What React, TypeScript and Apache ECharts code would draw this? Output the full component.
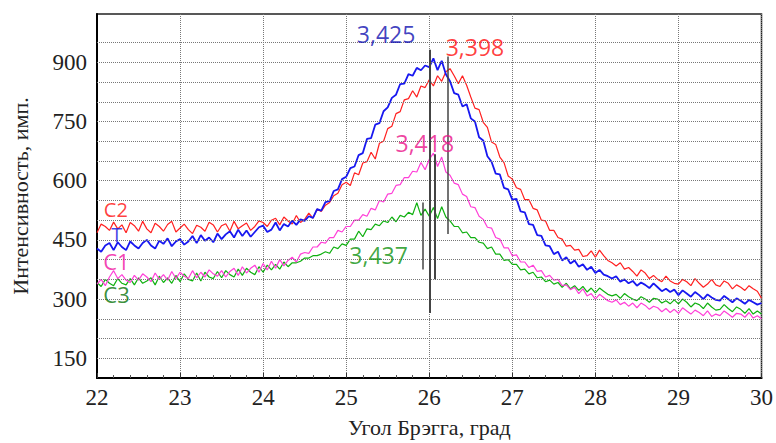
import React, { useEffect, useRef } from "react";
import * as echarts from "echarts";

// Bragg angle grid (deg), 22.00 .. 30.00 step 0.05
const xStart = 22;
const xStep = 0.05;

// C2 (red)
const c2 = [
  468, 490, 484, 474, 495, 478, 488, 468, 494, 486, 472, 497, 478, 468, 492, 484, 472, 489, 497, 470,
  480, 490, 476, 466, 487, 482, 472, 495, 488, 470, 486, 491, 472, 497, 478, 486, 493, 474, 484, 498,
  494, 484, 500, 505, 488, 508, 498, 490, 512, 494, 502, 518, 505, 528, 522, 538, 545, 562, 568, 590,
  596, 588, 620, 615, 645, 648, 672, 655, 695, 700, 732, 738, 770, 775, 805, 808, 828, 812, 840, 836,
  856, 840, 866, 852, 876, 884, 866, 846, 866, 842, 812, 784, 780, 748, 735, 698, 692, 660, 646, 612,
  604, 582, 578, 552, 552, 530, 526, 500, 498, 474, 474, 456, 452, 434, 436, 424, 426, 408, 410, 422,
  406, 424, 410, 398, 392, 384, 392, 376, 380, 370, 358, 374, 366, 352, 360, 350, 344, 358, 346, 340,
  338, 350, 344, 334, 352, 340, 330, 338, 350, 336, 332, 346, 340, 326, 336, 330, 322, 334, 326, 320,
  302,
];

// T (blue)
const tSeries = [
  428, 420, 436, 442, 424, 444, 432, 424, 446, 436, 428, 442, 450, 436, 428, 448, 440, 454, 434, 446,
  452, 438, 446, 460, 442, 462, 448, 456, 444, 466, 452, 464, 472, 456, 476, 460, 474, 458, 470, 482,
  486, 470, 476, 494, 474, 490, 484, 499, 488, 502, 498, 510, 506, 528, 524, 546, 548, 574, 578, 604,
  610, 632, 636, 665, 670, 706, 708, 742, 746, 776, 786, 810, 818, 845, 846, 870, 866, 886, 880, 892,
  888, 910, 880, 904, 870, 852, 822, 818, 788, 794, 758, 750, 710, 702, 662, 648, 618, 616, 582, 578,
  552, 554, 522, 520, 490, 488, 462, 460, 436, 434, 414, 420, 398, 406, 390, 398, 382, 388, 374, 382,
  366, 374, 362, 358, 352, 358, 344, 350, 340, 346, 334, 342, 336, 328, 340, 330, 320, 326, 318, 324,
  310, 322, 314, 306, 318, 310, 300, 312, 304, 298, 296, 308, 300, 292, 302, 296, 288, 298, 292, 286,
  290,
];

// C1 (magenta)
const c1 = [
  338, 350, 334, 356, 372, 352, 362, 348, 342, 360, 348, 364, 356, 344, 366, 350, 362, 348, 370, 352,
  368, 358, 352, 372, 354, 368, 356, 374, 364, 358, 372, 356, 370, 378, 360, 382, 366, 378, 386, 368,
  390, 374, 396, 378, 400, 384, 398, 406, 394, 414, 418, 416, 432, 432, 444, 442, 456, 456, 474, 470,
  484, 484, 500, 500, 514, 510, 530, 526, 550, 546, 566, 568, 588, 590, 608, 608, 624, 622, 646, 628,
  654, 670, 636, 660, 622, 614, 594, 590, 566, 560, 534, 532, 510, 502, 482, 480, 456, 452, 430, 430,
  410, 412, 394, 394, 380, 386, 370, 372, 356, 360, 348, 350, 334, 336, 324, 330, 314, 326, 308, 314,
  300, 312, 304, 296, 292, 298, 286, 292, 282, 290, 278, 290, 284, 274, 282, 278, 268, 276, 266, 274,
  264, 278, 270, 262, 272, 266, 258, 270, 256, 262, 258, 270, 262, 254, 264, 262, 254, 266, 252, 258,
  250,
];

// C3 (green)
const c3 = [
  342, 332, 350, 340, 334, 352, 340, 336, 352, 336, 354, 340, 346, 354, 336, 358, 342, 354, 340, 360,
  344, 364, 350, 346, 366, 346, 368, 356, 352, 370, 354, 372, 362, 356, 376, 360, 378, 368, 362, 382,
  368, 386, 374, 388, 376, 394, 382, 392, 392, 396, 404, 404, 410, 410, 414, 420, 416, 432, 428, 440,
  436, 452, 452, 472, 458, 478, 476, 490, 486, 498, 494, 508, 496, 512, 508, 520, 514, 544, 512, 528,
  510, 532, 504, 534, 508, 498, 484, 484, 468, 470, 456, 456, 444, 442, 428, 432, 414, 414, 398, 400,
  388, 388, 374, 376, 364, 368, 354, 356, 344, 348, 338, 342, 330, 340, 326, 334, 322, 332, 318, 328,
  316, 328, 320, 312, 308, 312, 302, 314, 306, 300, 296, 306, 300, 292, 302, 300, 290, 296, 288, 298,
  288, 300, 292, 280, 290, 286, 276, 290, 280, 272, 274, 286, 276, 268, 280, 274, 264, 276, 262, 270,
  262,
];

// Peak annotations: [x, y, text, color]
const peakLabels: [number, number, string, string][] = [
  [25.48, 971, "3,425", "#1010b0"],
  [26.55, 940, "3,398", "#ff0c0c"],
  [25.946, 695, "3,418", "#ea1088"],
  [25.39, 412, "3,437", "#0f920f"],
];

// Peak marker lines: [x, yTop, yBottom, width]
const peakLines: [number, number, number, number][] = [
  [26.012, 932, 265, 2],
  [26.227, 915, 465, 1.5],
  [26.066, 667, 350, 2],
  [25.916, 545, 375, 1.5],
];

// Series name labels: [x, y, text, color, font size]
const seriesLabels: [number, number, string, string, number][] = [
  [22.227, 526, "C2", "#ff0c0c", 20],
  [22.239, 463, "T", "#1212e0", 20],
  [22.233, 396, "C1", "#f012a0", 22],
  [22.235, 312, "C3", "#087408", 22],
];

const yGridValues = [150, 200, 250, 300, 350, 400, 450, 500, 550, 600, 650, 700, 750, 800, 850, 900, 950];
const yLabelValues = [150, 300, 450, 600, 750, 900];

const xs = c2.map((_, i) => +(xStart + i * xStep).toFixed(2));
const toPairs = (arr: number[]) => arr.map((v, i) => [xs[i], v]);

export default function App() {
  const ref = useRef<HTMLDivElement>(null);
  useEffect(() => {
    if (!ref.current) return;
    const chart = echarts.init(ref.current, null, { renderer: "svg" });
    const serif = "'Liberation Serif', 'Times New Roman', serif";
    const sans = "'Open Sans', 'Liberation Sans', sans-serif";
    chart.setOption({
      animation: false,
      backgroundColor: "#ffffff",
      grid: {
        left: 97,
        right: 9,
        top: 14,
        bottom: 60,
        show: true,
        borderColor: "#222",
        borderWidth: 1.5,
      },
      xAxis: {
        type: "value",
        min: 22,
        max: 30,
        interval: 1,
        name: "Угол Брэгга, град",
        nameLocation: "middle",
        nameGap: 38,
        nameTextStyle: { fontFamily: serif, fontSize: 22, color: "#222" },
        axisLine: { show: true, lineStyle: { color: "#000", width: 2 } },
        axisTick: { show: true, inside: true, length: 5, lineStyle: { color: "#333" } },
        minorTick: { show: true, splitNumber: 5, length: 3, lineStyle: { color: "#555" } },
        axisLabel: { fontFamily: serif, fontSize: 23, color: "#222", margin: 8 },
        splitLine: { show: true, lineStyle: { color: "#777", type: "dotted", width: 1 } },
      },
      yAxis: {
        type: "value",
        min: 100,
        max: 1022.5,
        interval: 50,
        name: "Интенсивность, имп.",
        nameLocation: "middle",
        nameGap: 66,
        nameTextStyle: { fontFamily: serif, fontSize: 22, color: "#222" },
        axisLine: { show: true, lineStyle: { color: "#000", width: 2 } },
        axisTick: { show: false },
        axisLabel: {
          fontFamily: serif,
          fontSize: 23,
          color: "#222",
          margin: 10,
          formatter: (v: number) => (yLabelValues.includes(v) ? String(v) : ""),
        },
        splitLine: { show: false },
      },
      series: [
        {
          type: "line",
          data: [],
          silent: true,
          z: 1,
          markLine: {
            silent: true,
            symbol: "none",
            label: { show: false },
            lineStyle: { color: "#777", type: "dotted", width: 1 },
            data: yGridValues.map((v) => ({ yAxis: v })),
          },
        },
        {
          name: "C2",
          type: "line",
          data: toPairs(c2),
          showSymbol: false,
          z: 3,
          lineStyle: { color: "#ff2020", width: 1.2 },
        },
        {
          name: "C3",
          type: "line",
          data: toPairs(c3),
          showSymbol: false,
          z: 3,
          lineStyle: { color: "#10b010", width: 1.2 },
        },
        {
          name: "C1",
          type: "line",
          data: toPairs(c1),
          showSymbol: false,
          z: 3,
          lineStyle: { color: "#ff40d8", width: 1.2 },
        },
        {
          name: "T",
          type: "line",
          data: toPairs(tSeries),
          showSymbol: false,
          z: 4,
          lineStyle: { color: "#1818f0", width: 1.8 },
        },
        {
          type: "line",
          data: [],
          silent: true,
          z: 5,
          markLine: {
            silent: true,
            symbol: "none",
            label: { show: false },
            data: peakLines.map(([x, y1, y2, w]) => [
              { coord: [x, y1], lineStyle: { color: "#444", width: w, type: "solid" } },
              { coord: [x, y2] },
            ]),
          },
        },
        {
          type: "scatter",
          symbolSize: 0,
          silent: true,
          z: 6,
          data: peakLabels.map(([x, y, t, c]) => ({
            value: [x, y],
            label: {
              show: true,
              position: "inside",
              formatter: t,
              color: c,
              fontFamily: sans,
              fontSize: 23,
              fontWeight: 500,
              lineHeight: 22,
            },
          })),
        },
        {
          type: "scatter",
          symbolSize: 0,
          silent: true,
          z: 6,
          data: seriesLabels.map(([x, y, t, c, fs]) => ({
            value: [x, y],
            label: {
              show: true,
              position: "inside",
              formatter: t,
              color: c,
              fontFamily: sans,
              fontSize: fs,
              fontWeight: 500,
              lineHeight: 18,
            },
          })),
        },
      ],
    });
    return () => chart.dispose();
  }, []);
  return <div ref={ref} style={{ width: 776, height: 443, position: "absolute", left: 0, top: 0 }} />;
}
